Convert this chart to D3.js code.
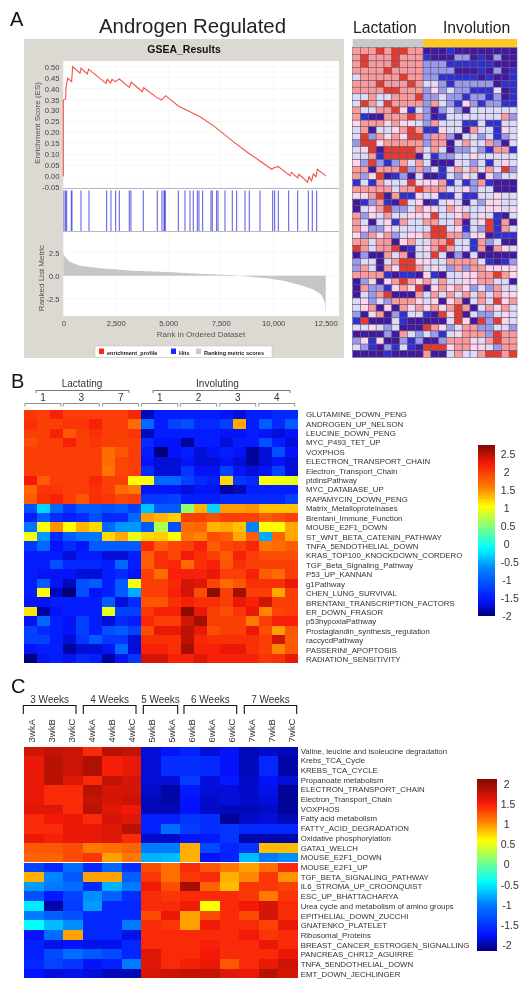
<!DOCTYPE html>
<html><head><meta charset="utf-8">
<script src="https://cdn.jsdelivr.net/npm/d3@7/dist/d3.min.js"></script>
<style>html,body{margin:0;padding:0;background:#fff}svg{display:block;filter:blur(0.45px)}text{font-family:"Liberation Sans",Arial,sans-serif}</style>
</head><body><svg id="c" width="529" height="990"></svg>
<script>
// ---------- Panel A data ----------
const esRank=[0,0,111,127,206,397,445,794,842,1143,1207,2033,2096,2255,2318,2477,2668,3144,3240,3763,3827,4446,4685,4875,5479,6511,7146,8099,8734,9369,9925,10084,10243,10798,10878,11164,11227,11640,11703,11830,11910,12037,12101,12498];
const esValue=[0,0.348,0.353,0.401,0.447,0.432,0.50,0.47,0.494,0.467,0.489,0.424,0.442,0.426,0.442,0.432,0.444,0.406,0.429,0.386,0.404,0.36,0.348,0.368,0.321,0.272,0.231,0.158,0.112,0.07,0.032,0.041,0.044,0.003,0.018,-0.008,0.009,-0.027,-0.002,-0.021,0.011,-0.002,0.032,0.002];
const hitRanks=[32,111,159,381,413,842,1223,2064,2271,2493,2668,3144,3223,3811,4478,4700,4795,4827,4859,5479,5796,6034,6193,6384,6463,6638,7035,7098,7305,7368,7702,8051,8257,8654,8861,9369,9972,10068,10243,10735,11164,11672,11862,12069];
const metricRank=[0,79,318,794,1747,3335,4923,6511,8099,9687,10480,11275,11910,12307,12466,12498];
const metricValue=[2.4,2.07,1.5,1.08,0.8,0.54,0.4,0.22,0.04,-0.29,-0.54,-1.0,-1.5,-2.1,-3,-4.1];
const esTicks=[0.5,0.45,0.4,0.35,0.3,0.25,0.2,0.15,0.1,0.05,0,-0.05];
const metricTicks=[2.5,0,-2.5];
const rankTicks=[0,2500,5000,7500,10000,12500];
const legendNames=["enrichment_profile","Hits","Ranking metric scores"];
const heatAGroups=["Lactation","Involution"];
const heatA=[
"555656655"+"000100000000","565556555"+"100022010200","565556555"+"222111111000",
"555565555"+"222200010201","355555655"+"221111101001","555655565"+"332122222011",
"555566555"+"242322111301","335335556"+"223221221201","365365555"+"253214212211",
"533556413"+"202320333333","510055565"+"201333333352","455545443"+"253331131133",
"350334565"+"114330533143","362545466"+"255203323123","266455555"+"255035335203",
"346066665"+"353022321551","335166660"+"312233433333","426212535"+"300033231343",
"550555625"+"231353535362","524601203"+"001324304233","131533364"+"445131251000",
"555553556"+"555334233000","445605114"+"341131133433","012510634"+"013430324433",
"034562235"+"443543334434","524353344"+"463345343103","530341533"+"553350346150",
"542243333"+"366341326153","425452344"+"566552440111","553550453"+"355633152300",
"653556013"+"456533150543","020053503"+"363020300000","233035664"+"433555531012",
"253054665"+"343252554444","555510110"+"410334455654","024045654"+"535334455330",
"052214546"+"045454232533","032560005"+"353535353544","342325554"+"340450353645",
"345040545"+"454565035453","204502133"+"106460322343","160003100"+"000364062643",
"334323000"+"654235522332","000020532"+"321345552655","241400212"+"002555435655",
"321021310"+"666455443255","000010000"+"500353356656"
].map(s=>Array.from(s,Number));

// ---------- Panel B data ----------
const bGroups=["Lactating","Involuting"];
const bSubs=["1","3","7","1","2","3","4"];
const bRows=["GLUTAMINE_DOWN_PENG","ANDROGEN_UP_NELSON","LEUCINE_DOWN_PENG","MYC_P493_TET_UP","VOXPHOS","ELECTRON_TRANSPORT_CHAIN","Electron_Transport_Chain","ptdinsPathway","MYC_DATABASE_UP","RAPAMYCIN_DOWN_PENG","Matrix_Metalloproteinases","Brentani_Immune_Function","MOUSE_E2F1_DOWN","ST_WNT_BETA_CATENIN_PATHWAY","TNFA_5ENDOTHELIAL_DOWN","KRAS_TOP100_KNOCKDOWN_CORDERO","TGF_Beta_Signaling_Pathway","P53_UP_KANNAN","g1Pathway","CHEN_LUNG_SURVIVAL","BRENTANI_TRANSCRIPTION_FACTORS","ER_DOWN_FRASOR","p53hypoxiaPathway","Prostaglandin_synthesis_regulation","raccycdPathway","PASSERINI_APOPTOSIS","RADIATION_SENSITIVITY"];
const bValues=[
[2.05,2,2.2,2,2,2,2,2,2.15,-1.8,-1.5,-1.5,-1.5,-1.5,-1.5,-1.6,-1.7,-1.5,-1.5,-1.4,-1.4],
[2.1,2,2,2.05,2.05,2.2,2,2,1.7,-0.9,-1.5,-1.2,-1.1,-1.4,-1.4,-1.2,1.4,-1.5,-1,-1.4,-1],
[2,2,2.2,1.85,2,2.1,2,2,2.05,-1.8,-1.5,-1.5,-1.5,-1.5,-1.5,-1.6,-1.6,-1.5,-1.6,-1.7,-1.6],
[1.9,2,2,2.2,2,2.05,2,2,2,-1.4,-1.6,-1.6,-1.9,-1.5,-1.5,-1.7,-1.5,-1.5,-1.1,-1.5,-1.7],
[2,2,2,2,2,2,1.7,1.85,2,-1.5,-2,-1.6,-1.5,-1.7,-1.6,-1.5,-1.6,-1.9,-1.7,-1.1,-1.6],
[2,2,2,2,2,2,1.7,1.95,2,-1.6,-1.7,-1.7,-1.6,-1.7,-1.7,-1.6,-1.7,-1.9,-1.7,-1.6,-1.7],
[2,2,2,2,2,2,1.65,1.95,2,-1.4,-1.7,-1.7,-1.3,-1.6,-1.6,-1.2,-1.6,-1.7,-1.6,-1.2,-1.7],
[2.25,1.8,2,2,2,2.15,2,2,1.05,1.05,-0.9,-0.9,-1.2,-1.4,-1.5,1.2,-1.3,-1.4,1.05,1,0.95],
[1.75,2.05,2.05,2,2,2.1,2,1.7,1.6,-1.6,-1.6,-1.6,-1.7,-1.6,-1.6,-1.9,-1.8,-1.5,-1.5,-1.5,-1.5],
[1.8,2.1,2.2,2,1.85,2.1,2.05,1.95,2,-1.3,-1.3,-1.2,-1.5,-1.5,-1.5,-1.4,-1.4,-1.4,-1.4,-1.4,-1.2],
[-1.1,-0.3,-0.9,-1.3,-1,-1,-1.1,-1,-1.2,-0.4,-1,-1,0.55,1.35,-0.3,1.45,1.45,1.5,1.3,1.3,1.3],
[-1.5,-1,-1.4,-1.5,-1.4,-1.1,-1.4,-1.4,-0.9,1.45,1.35,1.25,2,2,1.9,2,2,2,1.8,1.9,2],
[-0.8,1,1.5,1.05,1.35,1.2,-0.9,-0.6,-0.6,-1,0.7,-1.1,1.7,1.75,1.35,1.4,1.3,-0.7,1.05,1.05,1.4],
[1,-0.6,-1.4,-1,-0.8,-0.8,1.2,1.4,0.95,1.2,1.25,1.05,1.65,1.55,1.9,1.8,1.4,1.8,-0.5,1.75,1.4],
[-1.3,-0.9,-1.6,-1.4,-1.6,-1,-1,-1,-1,2.15,1.8,1.95,2,2.2,1.8,1.95,2,2.15,1.65,1.7,1.8],
[-1.5,-1.5,-1.5,-1.7,-1.5,-1.5,-1.7,-1.7,-1.5,1.8,2.1,1.95,2.25,2.1,2,1.8,2.2,2,1.9,1.9,1.9],
[-1.5,-1.5,-1.1,-1.4,-1.4,-1.4,-1.5,-0.9,-1.5,1.8,2.1,2.15,1.7,2.1,2.2,1.85,2.1,2,2,2,2],
[-1.5,-1.6,-1.6,-1.6,-1.7,-1.7,-1.5,-1.4,-1.6,2,1.7,2.2,2.2,2.2,2.3,2,2,2.2,1.8,1.7,2],
[-1.5,-1,-1.6,-1.8,-1.1,-1,-1.5,-1,1,2,2,2.15,2.4,2.35,1.95,1.7,1.85,2.1,2.1,2.1,2.3],
[-1.5,1.05,-1.8,-2,-1.1,-1.6,-1.5,-1,-0.5,2,2,2.2,2.4,1.9,2.7,2,2.6,2,2,1.4,2],
[-1.6,-1.6,-1.5,-1.5,-1.5,-1.5,-1,-1.7,-1.4,1.85,1.85,2.1,2.2,2.1,2.1,2,2.3,2.2,2.4,2,2],
[1.15,-1.9,-1.6,-1.5,-1.5,-1.5,0.95,-1.2,-1.2,2.05,2.2,2.2,2.7,2.3,2,1.9,2.05,2.3,1.55,1.95,2],
[-1.6,-0.9,-1.5,-1.6,-1.2,-1.5,-1.7,-1.4,-1.5,2.15,2,2,2.4,2.6,2,2,2,1.6,2,2.2,2.2],
[-1.2,-1.4,-1.5,-1.6,-1.2,-1.5,-1.1,-1,-1.2,1.9,2.3,2.3,2.5,2.3,1.9,2,2,2.3,1.9,1.45,1.85],
[-1.2,-1.2,-1.5,-1.7,-1.3,-1,-1.3,-1.3,-1.7,2.1,2.1,2.1,2.5,2.15,2.1,2.1,2.1,2.1,2,2.4,1.8],
[-1.6,-1.5,-1.5,-1.9,-1.7,-1.7,-1.6,-0.9,-1.7,2.2,2.2,2.1,2.6,2.2,2.2,2.3,2.3,2.1,2,1.55,1.85],
[-2,-1.6,-1.5,-1.6,-1.4,-1.5,-1.9,-1.6,-1.3,2.4,2.4,2.2,2.2,2.35,2.2,2.2,2.2,2.2,2.05,2.1,2.3]
];
const bBarTicks=[2.5,2,1.5,1,0.5,0,-0.5,-1,-1.5,-2];

// ---------- Panel C data ----------
const cGroups=["3 Weeks","4 Weeks","5 Weeks","6 Weeks","7 Weeks"];
const cCols=["3wkA","3wkB","3wkC","4wkA","4wkB","4wkC","5wkB","5wkA","6wkB","6wkA","6wkC","7wkA","7wkB","7wkC"];
const cRows=["Valine, leucine and isoleucine degradation","Krebs_TCA_Cycle","KREBS_TCA_CYCLE","Propanoate metabolism","ELECTRON_TRANSPORT_CHAIN","Electron_Transport_Chain","VOXPHOS","Fatty acid metabolism","FATTY_ACID_DEGRADATION","Oxidative phosphorylation","GATA1_WELCH","MOUSE_E2F1_DOWN","MOUSE_E2F1_UP","TGF_BETA_SIGNALING_PATHWAY","IL6_STROMA_UP_CROONQUIST","ESC_UP_BHATTACHARYA","Urea cycle and metabolism of amino groups","EPITHELIAL_DOWN_ZUCCHI","GNATENKO_PLATELET","Ribosomal_Proteins","BREAST_CANCER_ESTROGEN_SIGNALLING","PANCREAS_CHR12_AGUIRRE","TNFA_5ENDOTHELIAL_DOWN","EMT_DOWN_JECHLINGER"];
const cValues=[
[1.72,1.8,1.75,1.45,1.85,1.8,-1.85,-1.75,-1.65,-1.85,-1.75,-1.95,-1.9,-1.95],
[1.6,1.85,1.75,1.9,1.5,1.6,-1.85,-1.55,-1.55,-1.6,-1.75,-1.95,-1.6,-2],
[1.6,1.85,1.75,1.9,1.5,1.6,-1.85,-1.55,-1.55,-1.6,-1.75,-1.95,-1.6,-2],
[1.6,1.85,1.65,1.45,1.8,1.7,-1.85,-1.85,-1.45,-1.85,-1.7,-1.9,-1.75,-1.85],
[1.6,1.45,1.45,1.85,1.7,1.7,-1.9,-2,-1.7,-1.85,-1.85,-1.9,-1.8,-2.05],
[1.6,1.45,1.45,1.8,1.7,1.75,-1.95,-2,-1.75,-1.9,-1.85,-1.9,-1.85,-2.05],
[1.65,1.65,1.45,1.85,1.65,1.55,-1.95,-1.95,-1.75,-1.9,-1.95,-1.95,-1.9,-2.05],
[1.45,1.55,1.6,1.45,1.7,1.65,-1.65,-1.65,-1.5,-1.55,-2.05,-1.9,-1.85,-1.95],
[1.45,1.45,1.6,1.6,1.65,1.85,-1.65,-1.1,-1.45,-1.55,-1.5,-1.6,-1.6,-1.6],
[1.6,1.5,1.6,1.6,1.65,1.45,-1.9,-1.9,-1.75,-1.7,-1.5,-2,-2,-2],
[1.25,1.25,1.3,1.1,1.15,1.2,-1,-1,0.9,-1.35,-1.6,-1.5,0.85,0.85],
[1.2,1.2,1.3,1.4,0.95,1.1,-0.75,-0.7,0.9,-1.75,-1.65,-0.7,-1,-0.9],
[-1.4,-1.6,-1.1,-1.6,-1.15,-1.55,1.3,1.15,1.45,1.25,1.1,0.95,1.15,1.45],
[0.9,-0.95,-1.25,0.95,0.95,-1.2,1.4,1.15,1.4,1.45,0.9,1.05,1.4,1],
[-0.85,-1,-1.1,-1.6,-0.75,-1,1.55,1.3,1.95,1.2,0.85,1.4,1.4,1.35],
[-1.3,-1.7,-1.4,-0.9,-1.2,-1.55,1.45,1.4,1.45,1.45,1.45,1.4,1.1,1.4],
[-0.5,-2,-1.45,-0.85,-1.6,-1.6,1.45,1.45,1.55,0.6,1.45,1.55,1.7,1.45],
[-1,-1.2,-1.3,-1.6,-1.6,-1.6,1.3,1.6,0.95,1.3,1.45,1.3,1.7,1.45],
[-0.4,-0.7,-0.9,-1.6,-1.6,-1,1.45,1.4,0.95,1.55,1.45,1.45,1.35,1.6],
[-1.75,-1.1,0.95,-1.6,-1.6,-1.8,1.45,1.45,1.45,1.45,1.45,1.55,1.4,1.45],
[-1.65,-1.8,-1.75,-1.8,-1.8,-1.6,1.45,1.45,1.45,1.5,1.45,1.45,1.6,1.45],
[-1.65,-1.35,-1.1,-1.25,-1.35,-1.6,1.65,1.45,1.45,1.55,1.45,1.45,1.45,1.6],
[-1.6,-1.4,-1.5,-1.75,-1.65,-1,1.65,1.45,1.5,1.6,1.25,1.45,1.6,1.75],
[-1.75,-1.85,-1.8,-1.85,-1.95,-1.95,1.7,1.75,1.8,1.8,1.65,1.6,1.85,1.7]
];
const cBarTicks=[2,1.5,1,0.5,0,-0.5,-1,-1.5,-2];

// ---------- Drawing ----------
const svg=d3.select("#c");
const jet=["#00007f","#0414ff","#007fff","#00ffff","#7fff7f","#ffff00","#ff7f00","#f81a08","#7f0a00"];
function jetScale(lo,hi,redStop){const stops=[0,0.09,0.27,0.40,0.52,0.64,0.75,redStop,1];return d3.scaleLinear().domain(stops.map(t=>lo+t*(hi-lo))).range(jet).clamp(true);}
function label(t,x,y,size,opt={}){return svg.append("text").attr("x",x).attr("y",y).attr("font-size",size).attr("fill",opt.fill||"#222").attr("font-weight",opt.weight||null).attr("text-anchor",opt.anchor||"start").text(t);}
function bracket(x0,x1,y,drop,color,w){svg.append("path").attr("fill","none").attr("stroke",color).attr("stroke-width",w).attr("d",d3.line()([[x0,y+drop],[x0,y],[x1,y],[x1,y+drop]]));}
function heat(values,x0,x1,y0,y1,color,stroke){
  const n=values[0].length;
  const x=d3.scaleBand().domain(d3.range(n)).range([x0,x1]);
  const y=d3.scaleBand().domain(d3.range(values.length)).range([y0,y1]);
  const g=svg.append("g").attr("shape-rendering",stroke?"auto":"crispEdges");
  g.selectAll("g").data(values).join("g").attr("transform",(d,i)=>`translate(0,${y(i)})`)
   .selectAll("rect").data(d=>d).join("rect")
   .attr("x",(d,i)=>x(i)).attr("width",x.bandwidth()).attr("height",y.bandwidth())
   .attr("fill",d=>color(d)).attr("stroke",stroke||"none").attr("stroke-width",stroke?0.55:0);
  return {x,y};
}
function colorbar(lo,hi,x0,x1,yLo,yHi,ticks,tickYTop,tickYBottom,labelX,scale){
  const y=d3.scaleLinear().domain([lo,hi]).range([yLo,yHi]);
  const steps=d3.range(0,120);
  const h=(yLo-yHi)/120;
  svg.append("g").attr("shape-rendering","crispEdges").selectAll("rect").data(steps).join("rect")
    .attr("x",x0).attr("width",x1-x0).attr("y",d=>yHi+d*h).attr("height",h+0.6)
    .attr("fill",d=>scale(y.invert(yHi+(d+0.5)*h)));
  const ty=d3.scaleLinear().domain([ticks[0],ticks[ticks.length-1]]).range([tickYTop,tickYBottom]);
  ticks.forEach(t=>{const s=String(t);
    label(s,labelX+(s.length===1?3:(s.length===2?1.5:0)),ty(t)+3.8,10.5,{fill:"#333"});});
}

// Panel A
label("A",10,26,20,{fill:"#111"});
label("Androgen Regulated",192.5,33,20.4,{anchor:"middle",fill:"#222"});
svg.append("rect").attr("x",24).attr("y",39).attr("width",320).attr("height",319).attr("fill","#dcd8d2");
label("GSEA_Results",184,53,10.5,{anchor:"middle",weight:"bold",fill:"#111"});
const xR=d3.scaleLinear().domain([0,12500]).range([63.3,325.7]);
const plotL=63.3,plotR=339;
svg.append("rect").attr("x",plotL).attr("y",61).attr("width",plotR-plotL).attr("height",255).attr("fill","#fff");
const yES=d3.scaleLinear().domain([0,0.5]).range([176.3,66.7]);
const yM=d3.scaleLinear().domain([0,2.5]).range([275.7,252.7]);
const gridG=svg.append("g").attr("stroke","#f0f0f0").attr("stroke-width",0.5);
rankTicks.forEach(t=>{gridG.append("line").attr("x1",xR(t)).attr("x2",xR(t)).attr("y1",61).attr("y2",316);});
esTicks.forEach(t=>{gridG.append("line").attr("x1",plotL).attr("x2",plotR).attr("y1",yES(t)).attr("y2",yES(t));});
metricTicks.forEach(t=>{gridG.append("line").attr("x1",plotL).attr("x2",plotR).attr("y1",yM(t)).attr("y2",yM(t));});
svg.append("path").attr("fill","#c6c6c6")
  .attr("d",d3.area().x((d,i)=>xR(metricRank[i])).y0(yM(0)).y1(d=>yM(d))(metricValue));
svg.append("g").selectAll("line").data(hitRanks).join("line")
  .attr("x1",d=>xR(d)).attr("x2",d=>xR(d)).attr("y1",190.5).attr("y2",231).attr("stroke","#3f3fe0").attr("stroke-opacity",0.8).attr("stroke-width",1.1);
svg.append("g").attr("stroke","#8a8a8a").attr("stroke-width",0.6).selectAll("line").data([188.5,231.5]).join("line")
  .attr("x1",plotL).attr("x2",plotR).attr("y1",d=>d).attr("y2",d=>d);
svg.append("path").attr("fill","none").attr("stroke","#f0524a").attr("stroke-width",1.1)
  .attr("d",d3.line().x((d,i)=>xR(esRank[i])).y(d=>yES(d))(esValue));
const asciiMinus=f=>d=>f(d).replace("\u2212","-");
function cleanAxis(g){g.select(".domain").remove();g.selectAll("line").remove();g.selectAll("text").attr("font-size",7.6).attr("fill","#444").attr("font-family",'"Liberation Sans",Arial,sans-serif');}
svg.append("g").attr("transform","translate(59.5,0)").call(d3.axisLeft(yES).tickValues(esTicks).tickFormat(asciiMinus(d3.format(".2f"))).tickSize(0).tickPadding(0)).call(cleanAxis);
svg.append("g").attr("transform","translate(59.5,0)").call(d3.axisLeft(yM).tickValues(metricTicks).tickFormat(asciiMinus(d3.format(".1f"))).tickSize(0).tickPadding(0)).call(cleanAxis);
svg.append("g").attr("transform","translate(0,319)").call(d3.axisBottom(xR).tickValues(rankTicks).tickFormat(d3.format(",")).tickSize(0).tickPadding(2)).call(cleanAxis);
svg.append("text").attr("transform","translate(39.5,123) rotate(-90)").attr("text-anchor","middle").attr("font-size",8).attr("fill","#555").text("Enrichment Score (ES)");
svg.append("text").attr("transform","translate(43.5,278) rotate(-90)").attr("text-anchor","middle").attr("font-size",8).attr("fill","#555").text("Ranked List Metric");
label("Rank in Ordered Dataset",201,337,8,{anchor:"middle",fill:"#555"});
svg.append("rect").attr("x",95).attr("y",346).attr("width",177).attr("height",11.5).attr("fill","#fff").attr("stroke","#bbb").attr("stroke-width",0.5);
[[legendNames[0],98,"#ff2a10"],[legendNames[1],170,"#1428ff"],[legendNames[2],195,"#c8c8c8"]].forEach(([t,x,c])=>{
  svg.append("rect").attr("x",x+1).attr("y",348.5).attr("width",5).attr("height",5.5).attr("fill",c);
  label(t,x+9,354.5,5.6,{fill:"#222",weight:"bold"});
});
// Panel A heatmap
const aColor=d3.scaleLinear().domain([0,1,2,3,4,5,6]).range(["#42189e","#3030d0","#9a9aec","#dcdcf8","#fdd6ea","#fb9a98","#e83a2c"]);
label(heatAGroups[0],353,33,15.7,{fill:"#222"});
label(heatAGroups[1],443,33,15.7,{fill:"#222"});
const ax=d3.scaleBand().domain(d3.range(21)).range([352.7,517]);
svg.append("rect").attr("x",352.7).attr("y",39).attr("width",ax(9)-352.7).attr("height",8.5).attr("fill","#c9c9c9");
svg.append("rect").attr("x",ax(9)).attr("y",39).attr("width",517-ax(9)).attr("height",8.5).attr("fill","#ffc726");
heat(heatA,352.7,517,47.7,357.3,aColor,"#5f5570");

// Panel B
label("B",11,388,20,{fill:"#111"});
const bColor=jetScale(-2,2.76,0.89);
const bH=heat(bValues,24,298,410,663,bColor);
label(bGroups[0],82,386.5,10,{anchor:"middle",fill:"#333"});
label(bGroups[1],217.5,386.5,10,{anchor:"middle",fill:"#333"});
bracket(36,129,390.5,2.5,"#555",0.8);bracket(153,290,390.5,2.5,"#555",0.8);
[[25,61],[63.3,99.3],[102.7,138.7],[141.7,177.7],[180.3,216.7],[219.7,255.7],[258.7,294.7]].forEach((b,i)=>{
  bracket(b[0],b[1],403.5,3,"#777",0.8);
  label(bSubs[i],(b[0]+b[1])/2,401,10,{anchor:"middle",fill:"#333"});
});
const bLab=d3.scalePoint().domain(bRows).range([414.3,659.3]);
svg.append("g").selectAll("text").data(bRows).join("text").attr("x",306).attr("y",d=>bLab(d)+2.8).attr("font-size",7.85).attr("fill","#333").text(d=>d);
colorbar(-2,2.76,478.3,495.3,615.7,445,bBarTicks,454.3,615.7,500.7,bColor);

// Panel C
label("C",11,693,20,{fill:"#111"});
const cColor=jetScale(-2.12,2.14,0.855);
heat(cValues,24,297.7,746.7,978.3,cColor);
[[23.3,76],[83.3,136],[143.3,177.7],[184,236.7],[244.3,296.7]].forEach((b,i)=>{
  bracket(b[0],b[1],705.5,8.5,"#111",1.1);
  label(cGroups[i],(b[0]+b[1])/2,703,10,{anchor:"middle",fill:"#333"});
});
const cLabX=d3.scalePoint().domain(cCols).range([34.6,295.2]);
svg.append("g").selectAll("text").data(cCols).join("text")
  .attr("transform",d=>`translate(${cLabX(d)},742.5) rotate(-90)`).attr("font-size",9.5).attr("fill","#333").text(d=>d);
const cLab=d3.scalePoint().domain(cRows).range([750.7,974]);
svg.append("g").selectAll("text").data(cRows).join("text").attr("x",300.7).attr("y",d=>cLab(d)+2.8).attr("font-size",7.85).attr("fill","#333").text(d=>d);
colorbar(-2.12,2.14,477.3,496.7,950,778.7,cBarTicks,784.3,945,500.7,cColor);
</script></body></html>
